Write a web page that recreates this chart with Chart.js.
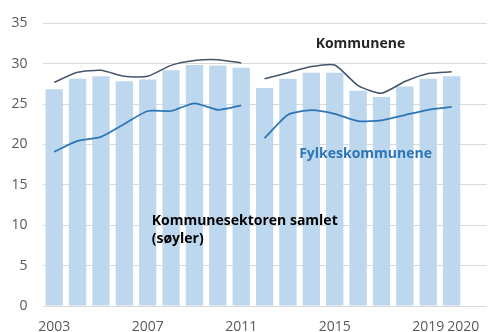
<!DOCTYPE html>
<html>
<head>
<meta charset="utf-8">
<script src="https://cdn.jsdelivr.net/npm/chart.js@4/dist/chart.umd.min.js"></script>
<style>
  html, body { margin: 0; padding: 0; background: #ffffff; }
  #wrap { width: 488px; height: 332px; position: relative; }
</style>
</head>
<body>
<div id="wrap"><canvas id="c"></canvas></div>
<script>
// Years shown on the category axis (one spare slot is kept at the right end)
const years = [2003, 2004, 2005, 2006, 2007, 2008, 2009, 2010, 2011,
               2012, 2013, 2014, 2015, 2016, 2017, 2018, 2019, 2020];
// Year labels written under the axis
const axisYears = ['2003', '2007', '2011', '2015', '2019', '2020'];
// Y axis ticks
const yTicks = [0, 5, 10, 15, 20, 25, 30, 35];

// Kommunesektoren samlet (søyler)
const samlet = [26.85, 28.15, 28.45, 27.85, 28.05, 29.2, 29.85, 29.8, 29.5,
                27.0, 28.15, 28.9, 28.9, 26.65, 25.9, 27.2, 28.15, 28.45];
// Kommunene (linje)
const kommunene = [27.7, 28.95, 29.2, 28.45, 28.45, 29.8, 30.4, 30.5, 30.1,
                   28.15, 28.9, 29.65, 29.85, 27.3, 26.35, 27.8, 28.8, 29.0];
// Fylkeskommunene (linje)
const fylkeskommunene = [19.1, 20.45, 20.95, 22.55, 24.15, 24.15, 25.1, 24.3, 24.85,
                         20.8, 23.7, 24.25, 23.8, 22.9, 23.0, 23.65, 24.3, 24.65];

// The line series are broken between 2011 and 2012
const breakIndex = years.indexOf(2012);
const firstPart = arr => arr.map((v, i) => (i < breakIndex ? v : null));
const secondPart = arr => arr.map((v, i) => (i >= breakIndex ? v : null));

const labels = years.map(String).concat(['']);

const KOMM_COLOR = '#44546A';
const FYLKE_COLOR = '#2E75B6';
const BAR_COLOR = '#BDD7EE';
const TICK_FONT = { family: '"Open Sans"', size: 14 };

function lineDataset(data, color, width) {
  return {
    type: 'line',
    data: data,
    borderColor: color,
    borderWidth: width,
    pointRadius: 0,
    tension: 0.2,
    spanGaps: false,
    fill: false,
    order: 1
  };
}

// Free-standing text labels inside the plot, plus the last year label
const textLabels = {
  id: 'textLabels',
  afterDatasetsDraw(chart) {
    const { ctx, scales } = chart;
    const xs = scales.x, ys = scales.y;
    ctx.save();
    ctx.font = 'bold 14px "Open Sans"';
    ctx.textBaseline = 'alphabetic';

    ctx.fillStyle = '#262626';
    ctx.textAlign = 'center';
    ctx.fillText('Kommunene', xs.getPixelForValue(13.1), ys.getPixelForValue(32));

    ctx.fillStyle = FYLKE_COLOR;
    ctx.fillText('Fylkeskommunene', xs.getPixelForValue(13.32), ys.getPixelForValue(18.3));

    ctx.fillStyle = '#000000';
    ctx.textAlign = 'left';
    const lx = xs.getPixelForValue(4.17);
    const ly = ys.getPixelForValue(10.05);
    ctx.fillText('Kommunesektoren samlet', lx, ly);
    ctx.fillText('(søyler)', lx, ly + 18);

    // "2020" sits between the final bar and the spare slot, on the same line as the other years
    const items = xs.getLabelItems();
    const ref = items[0];
    ctx.font = '14px "Open Sans"';
    ctx.fillStyle = '#595959';
    ctx.textAlign = 'center';
    ctx.textBaseline = ref.options.textBaseline;
    const xl = (xs.getPixelForValue(years.length - 1) + xs.getPixelForValue(years.length)) / 2;
    ctx.fillText('2020', xl, ref.options.translation[1] + ref.textOffset);
    ctx.restore();
  }
};

new Chart(document.getElementById('c'), {
  data: {
    labels: labels,
    datasets: [
      lineDataset(firstPart(kommunene), KOMM_COLOR, 1.5),
      lineDataset(secondPart(kommunene), KOMM_COLOR, 1.5),
      lineDataset(firstPart(fylkeskommunene), FYLKE_COLOR, 1.75),
      lineDataset(secondPart(fylkeskommunene), FYLKE_COLOR, 1.75),
      {
        type: 'bar',
        data: samlet,
        backgroundColor: BAR_COLOR,
        borderWidth: 0,
        barPercentage: 0.74,
        categoryPercentage: 1.0,
        order: 2
      }
    ]
  },
  options: {
    responsive: true,
    maintainAspectRatio: false,
    animation: false,
    layout: { padding: { top: 19, right: 0, bottom: 0, left: 0 } },
    plugins: { legend: { display: false }, tooltip: { enabled: false } },
    scales: {
      x: {
        grid: { display: false, drawTicks: false },
        border: { display: false },
        ticks: {
          autoSkip: false,
          maxRotation: 0,
          padding: 13,
          color: '#595959',
          font: TICK_FONT,
          callback: function (value, index) {
            const y = labels[index];
            return (axisYears.includes(y) && y !== '2020') ? y : '';
          }
        },
        afterFit: s => { s.height = 26; }
      },
      y: {
        min: 0,
        max: 35,
        afterBuildTicks: s => { s.ticks = yTicks.map(v => ({ value: v })); },
        grid: { color: '#D9D9D9', lineWidth: 1, drawTicks: false },
        border: { display: false },
        ticks: {
          padding: 15,
          color: '#595959',
          font: TICK_FONT
        },
        afterFit: s => { s.width = 42.5; }
      }
    }
  },
  plugins: [textLabels]
});
</script>
</body>
</html>
